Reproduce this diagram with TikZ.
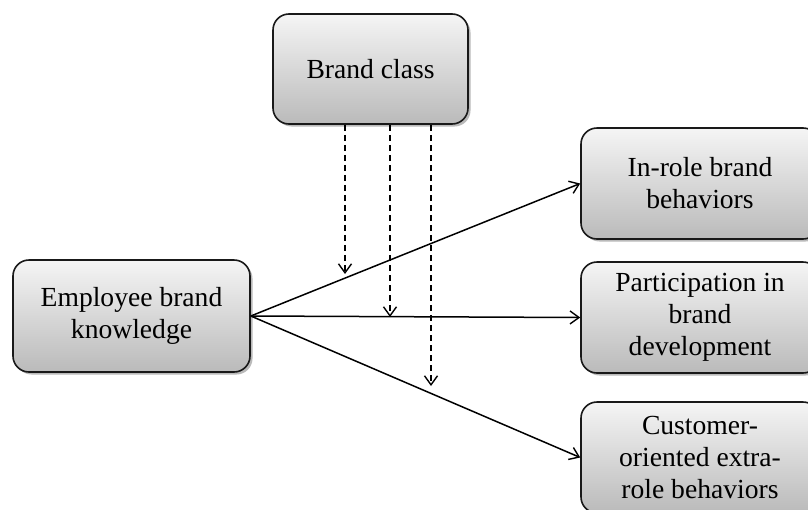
\documentclass[tikz,border=0pt]{standalone}
\usepackage{fontspec}
\setmainfont{Liberation Serif}
\usetikzlibrary{arrows.meta,shadows}
\begin{document}
\begin{tikzpicture}[x=1pt,y=-1pt,
  box/.style={draw=black!90, line width=1.6pt, rounded corners=16pt,
    top color=black!4, bottom color=black!27,
    drop shadow={shadow xshift=2.5pt, shadow yshift=-2.5pt, fill=black!45, opacity=0.6},
    align=center, inner sep=0pt,
    font=\fontsize{27.6}{32}\selectfont},
  conn/.style={line width=1.5pt, -{Straight Barb[length=9pt,width=13pt,line width=1.4pt]}},
  dconn/.style={conn, dash pattern=on 6pt off 4pt}]
\useasboundingbox (0,0) rectangle (808,509);
\clip (0,0) rectangle (808,509);
\fill[white] (0,0) rectangle (808,509);
\node[box, minimum width=195pt, minimum height=110pt] (bc) at (370.5,69) {Brand class};
\node[box, minimum width=237pt, minimum height=112pt] (ebk) at (131.5,316) {Employee brand\\knowledge};
\node[box, minimum width=238pt, minimum height=111pt] (b1) at (700,183.5) {In-role brand\\behaviors};
\node[box, minimum width=238pt, minimum height=111pt] (b2) at (700,317.5) {Participation in\\brand\\development};
\node[box, minimum width=238pt, minimum height=111pt] (b3) at (700,457.5) {Customer-\\oriented extra-\\role behaviors};
\draw[conn] (ebk.east) -- (b1.west);
\draw[conn] (ebk.east) -- (b2.west);
\draw[conn] (ebk.east) -- (b3.west);
\coordinate (d1) at (345,274);
\coordinate (d2) at (390,317);
\coordinate (d3) at (431,386);
\draw[dconn] (bc.south -| d1) -- (d1);
\draw[dconn] (bc.south -| d2) -- (d2);
\draw[dconn] (bc.south -| d3) -- (d3);
\end{tikzpicture}
\end{document}
